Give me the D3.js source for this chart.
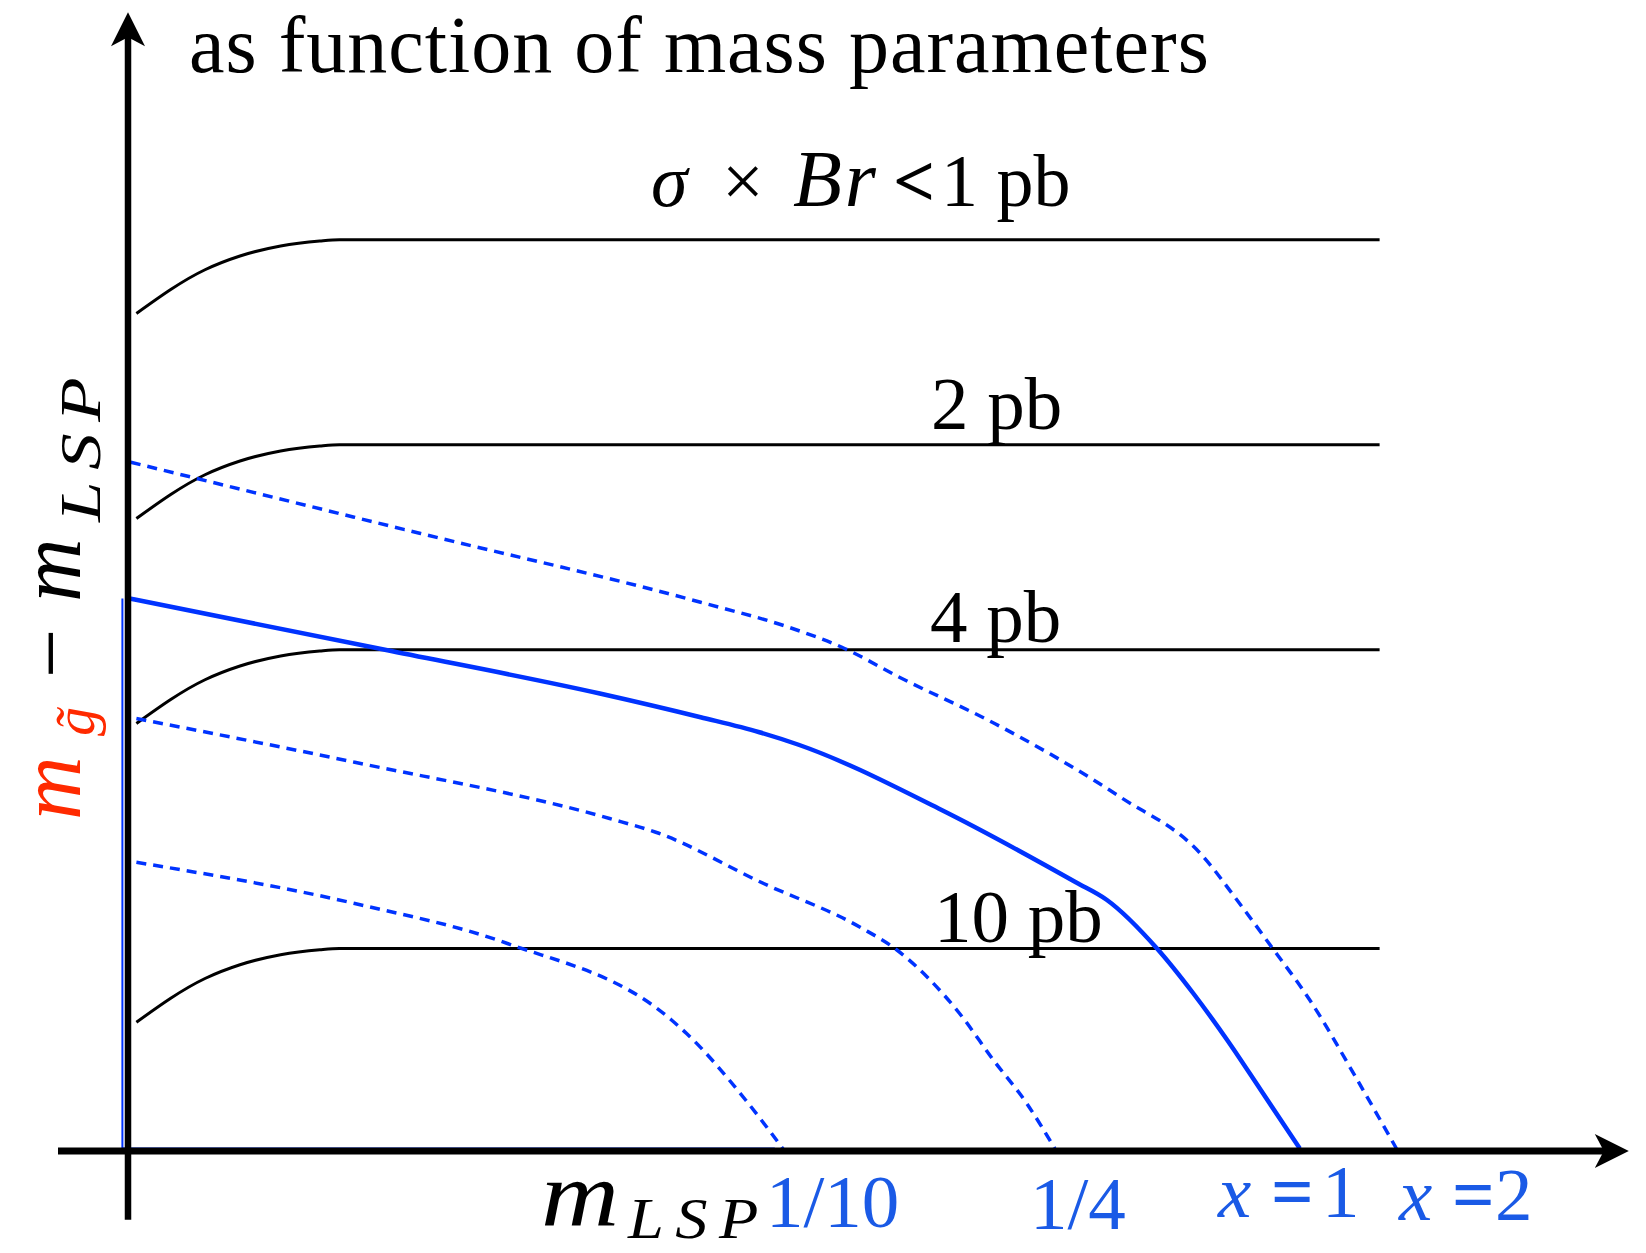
<!DOCTYPE html>
<html>
<head>
<meta charset="utf-8">
<script src="https://cdn.jsdelivr.net/npm/d3@7"></script>
<style>
  html, body { margin: 0; padding: 0; background: #fff; }
  svg { display: block; }
</style>
</head>
<body>
<svg id="chart"></svg>
<script>
// cross-section contours (black): shared x, one y list per contour
const xsecX = [6, 55, 80, 109, 137, 151, 894];
const xsec1 = [670, 705, 716, 724, 728, 729, 729];
const xsec2 = [506, 541, 552, 560, 564, 565, 565];
const xsec4 = [342, 377, 388, 396, 400, 401, 401];
const xsec10 = [103, 138, 149, 157, 161, 162, 162];

// x-ratio curves (blue)
const x1X = [1, 188, 337, 409, 451, 479, 579, 677, 699, 735, 761, 785, 809, 837];
const x1Y = [442, 400, 366, 347, 335, 325, 274, 215, 201, 162, 126, 89, 49, 2];
const x2X = [2, 209, 409, 472, 510, 551, 619, 709, 766, 794, 817, 844, 878, 906];
const x2Y = [551, 494, 439, 419, 403, 379, 342, 283, 238, 198, 163, 121, 57, 2];
const xQuarterX = [6, 162, 344, 377, 454, 523, 549, 571, 594, 618, 642, 662];
const xQuarterY = [346, 311, 266, 255, 214, 179, 161, 139, 110, 73, 38, 2];
const xTenthX = [6, 162, 271, 388, 399, 441, 469];
const xTenthY = [231, 198, 166, 105, 94, 41, 0];
// outline of the x=1 region along the axes
const edgeX = [-4, -4, 462];
const edgeY = [442, 2, 2];

const W = 1646, H = 1253;
const BLUE = "#0033ff", LABEL_BLUE = "#1a5ae6", RED = "#ff2a00";
const SERIF = "'Liberation Serif', 'Times New Roman', serif";

const svg = d3.select("#chart").attr("width", W).attr("height", H);

const x = d3.scaleLinear().domain([0, 1000]).range([128, 1528]);
const y = d3.scaleLinear().domain([0, 800]).range([1151, 151]);

const line = d3.line()
  .x(d => x(d[0]))
  .y(d => y(d[1]))
  .curve(d3.curveMonotoneX);

const zipPts = (xs, ys) => xs.map((v, i) => [v, ys[i]]);

// black contours
[xsec1, xsec2, xsec4, xsec10].forEach(ys => {
  svg.append("path")
    .attr("d", line(zipPts(xsecX, ys)))
    .attr("fill", "none")
    .attr("stroke", "#000")
    .attr("stroke-width", 3);
});

// thin blue edge
svg.append("path")
  .attr("d", d3.line().x(d => x(d[0])).y(d => y(d[1]))(zipPts(edgeX, edgeY)))
  .attr("fill", "none")
  .attr("stroke", BLUE)
  .attr("stroke-width", 2);

// dashed blue
[[x2X, x2Y], [xQuarterX, xQuarterY], [xTenthX, xTenthY]].forEach(([xs, ys]) => {
  svg.append("path")
    .attr("d", line(zipPts(xs, ys)))
    .attr("fill", "none")
    .attr("stroke", BLUE)
    .attr("stroke-width", 3.5)
    .attr("stroke-dasharray", "10,7");
});

// solid blue x=1
svg.append("path")
  .attr("d", line(zipPts(x1X, x1Y)))
  .attr("fill", "none")
  .attr("stroke", BLUE)
  .attr("stroke-width", 4.5);

// axes
const ox = x(0), oy = y(0);
const xTip = x(1072), yTip = y(911);
svg.append("line")
  .attr("x1", x(-50)).attr("x2", xTip - 20)
  .attr("y1", oy).attr("y2", oy)
  .attr("stroke", "#000").attr("stroke-width", 7);
svg.append("line")
  .attr("x1", ox).attr("x2", ox)
  .attr("y1", y(-55)).attr("y2", yTip + 20)
  .attr("stroke", "#000").attr("stroke-width", 6.5);
svg.append("path")
  .attr("d", `M${xTip},${oy} L${xTip - 34},${oy - 17} L${xTip - 25},${oy} L${xTip - 34},${oy + 17} Z`)
  .attr("fill", "#000");
svg.append("path")
  .attr("d", `M${ox},${yTip} L${ox + 17},${yTip + 34} L${ox},${yTip + 25} L${ox - 17},${yTip + 34} Z`)
  .attr("fill", "#000");

// title
svg.append("text")
  .attr("x", 189).attr("y", 72)
  .style("font-family", SERIF).style("font-size", "80px")
  .style("letter-spacing", "1px")
  .text("as function of mass parameters");

// top contour label
const topLabel = svg.append("text")
  .attr("y", 206)
  .style("font-family", SERIF).style("font-size", "74px");
topLabel.append("tspan").attr("x", 651).style("font-style", "italic").text("σ");
topLabel.append("tspan").attr("x", 722).text("×");
topLabel.append("tspan").attr("x", 793).style("font-style", "italic")
  .style("font-size", "80px").style("letter-spacing", "3px").text("Br");
topLabel.append("tspan").attr("x", 893).style("font-weight", "bold").text("<");
topLabel.append("tspan").attr("x", 941).text("1 pb");

// contour labels
const pbLabels = [["2 pb", 931, 429], ["4 pb", 930, 642], ["10 pb", 934, 942]];
pbLabels.forEach(([t, lx, ly]) => {
  svg.append("text")
    .attr("x", lx).attr("y", ly)
    .style("font-family", SERIF).style("font-size", "75px")
    .text(t);
});

// x-ratio labels
const blueText = (tx, ty) => svg.append("text")
  .attr("x", tx).attr("y", ty)
  .style("font-family", SERIF).style("font-size", "75px")
  .attr("fill", LABEL_BLUE);
blueText(766, 1227).text("1/10");
blueText(1030, 1229).text("1/4");
[[1218, 1217, "1"], [1399, 1220, "2"]].forEach(([tx, ty, v]) => {
  const t = blueText(tx, ty);
  t.append("tspan").style("font-style", "italic").text("x");
  t.append("tspan").attr("x", tx + 53).style("font-weight", "bold").text("=");
  t.append("tspan").attr("x", tx + (v === "1" ? 104 : 96)).text(v);
});

// x axis label
const xl = svg.append("g").style("font-family", SERIF).style("font-style", "italic");
xl.append("text").attr("transform", "translate(541,1226) scale(1.15,1)")
  .style("font-size", "94px").text("m");
xl.append("text").attr("transform", "translate(628,1238) scale(1.15,1)")
  .style("font-size", "56px").style("letter-spacing", "10px").text("LSP");

// y axis label (rotated)
const yl = svg.append("g")
  .attr("transform", "translate(80,820) rotate(-90)")
  .style("font-family", SERIF);
yl.append("text").attr("x", 0).attr("y", 0).style("font-size", "88px")
  .style("font-style", "italic").attr("fill", RED).text("m");
yl.append("text").attr("x", 84).attr("y", 14).style("font-size", "58px")
  .style("font-style", "italic").attr("fill", RED).text("g\u0303");
yl.append("text").attr("x", 142).attr("y", 0).style("font-size", "88px").text("\u2212");
yl.append("text").attr("x", 218).attr("y", 0).style("font-size", "88px")
  .style("font-style", "italic").text("m");
yl.append("text").attr("transform", "translate(298,20) scale(1.3,1)")
  .style("font-size", "56px")
  .style("font-style", "italic").style("letter-spacing", "9px").text("LSP");
</script>
</body>
</html>
